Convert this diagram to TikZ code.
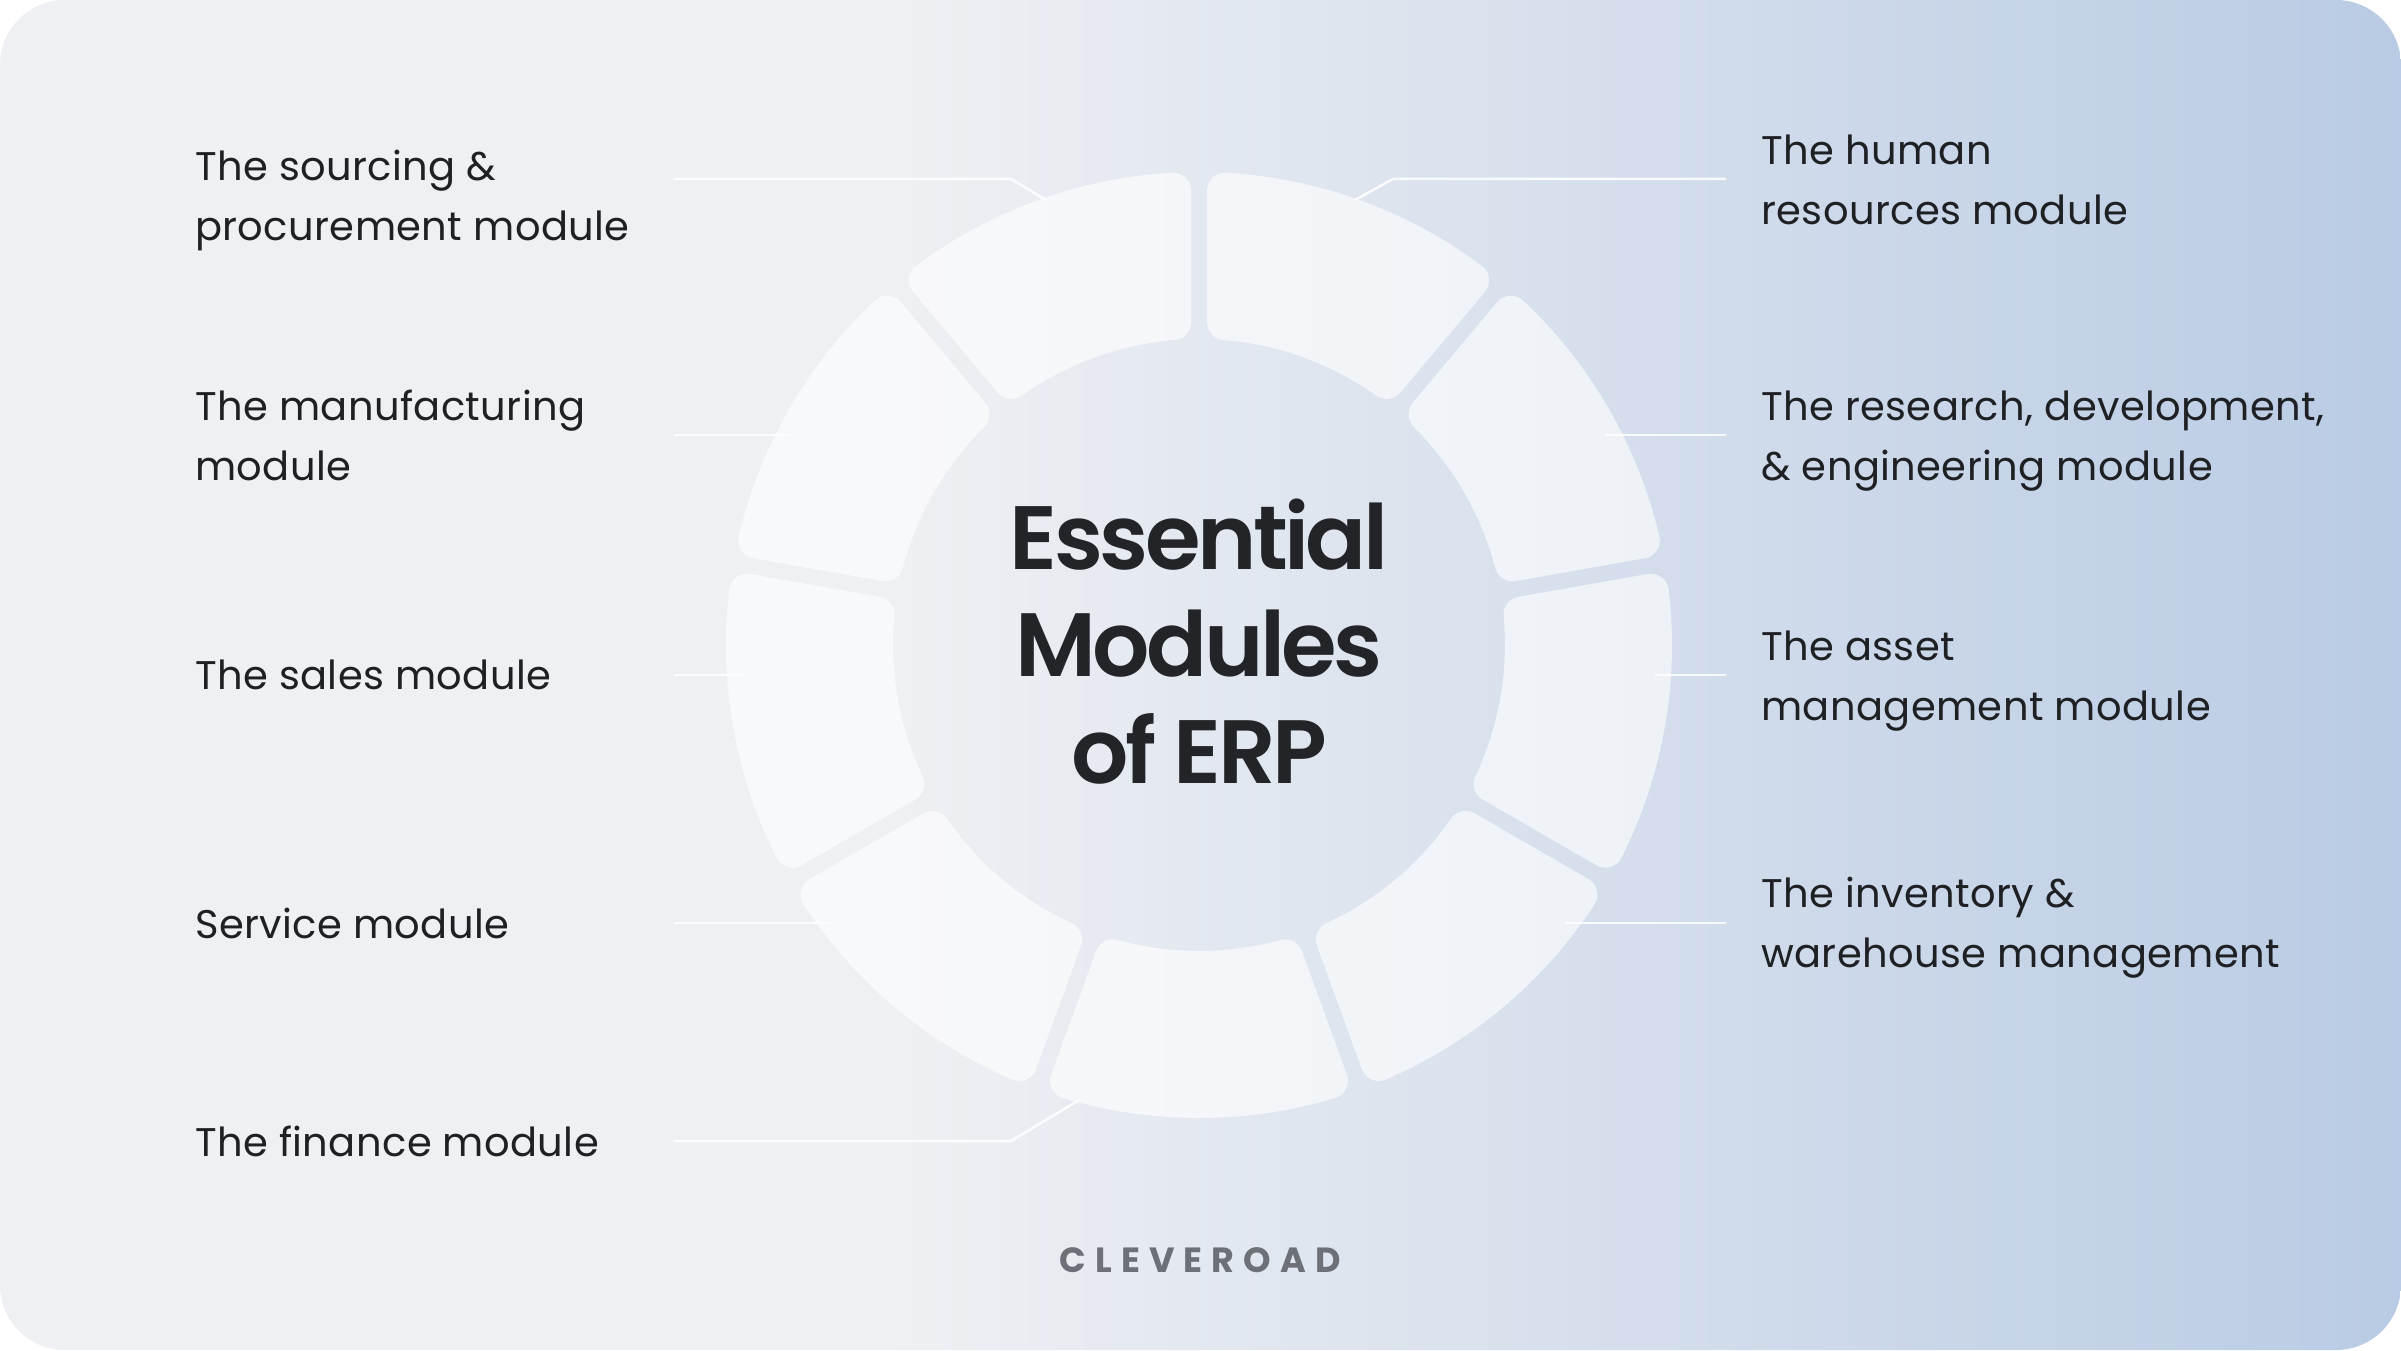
\documentclass[tikz,border=0pt]{standalone}
\usepackage{fontspec}
\setmainfont{Poppins}
\newfontfamily\ttlfont{Poppins SemiBold}[LetterSpace=-4]
\definecolor{bgL}{HTML}{EEF0F3}
\definecolor{bgR}{HTML}{B9CBE4}
\definecolor{txt}{HTML}{1F2024}
\definecolor{ttl}{HTML}{232427}
\definecolor{brand}{HTML}{6E7077}
\newcommand\leftstack[1]{\vtop{\halign{##\hfil\cr#1\crcr}}}
\newcommand\centerstack[1]{\vtop{\halign{\hfil##\hfil\cr#1\crcr}}}
\tikzset{
  lbl/.style={anchor=base west, inner sep=0pt, text=txt, font=\fontsize{40}{60}\selectfont\addfontfeature{LetterSpace=1}},
  conn/.style={draw=white, line width=2.5pt, opacity=0.85},
  seg/.style={fill=white, draw=white, line width=36pt, line join=round},
}
\begin{document}
\begin{tikzpicture}[x=1pt,y=1pt]
\useasboundingbox (0,0) rectangle (2401,1350);
\fill[white] (0,0) rectangle (2401,1350);
% background
\begin{scope}
\clip[rounded corners=65pt] (0,0) rectangle (2401,1350);
\fill[bgL] (0,0) rectangle (901,1350);
\shade[left color=bgL, right color=bgR] (900,0) rectangle (2401,1350);
\end{scope}
\coordinate (ctr) at (1199,705);
% connector coordinates
\coordinate (l1a) at (674,1171); \coordinate (l1b) at (1011,1171); \coordinate (l1c) at (1046,1150);
\coordinate (l2a) at (674,915);  \coordinate (l2b) at (790,915);
\coordinate (l3a) at (674,675);  \coordinate (l3b) at (745,675);
\coordinate (l4a) at (674,427);  \coordinate (l4b) at (830,427);
\coordinate (l5a) at (674,209);  \coordinate (l5b) at (1011,209); \coordinate (l5c) at (1079,250);
\coordinate (r1a) at (1726,1171); \coordinate (r1b) at (1393,1171); \coordinate (r1c) at (1355,1150);
\coordinate (r2a) at (1726,915);  \coordinate (r2b) at (1605,915);
\coordinate (r3a) at (1726,675);  \coordinate (r3b) at (1655,675);
\coordinate (r4a) at (1726,427);  \coordinate (r4b) at (1565,427);
\draw[conn] (l1a) -- (l1b) -- (l1c);
\draw[conn] (l2a) -- (l2b);
\draw[conn] (l3a) -- (l3b);
\draw[conn] (l4a) -- (l4b);
\draw[conn] (l5a) -- (l5b) -- (l5c);
\draw[conn] (r1a) -- (r1b) -- (r1c);
\draw[conn] (r2a) -- (r2b);
\draw[conn] (r3a) -- (r3b);
\draw[conn] (r4a) -- (r4b);
% ring segments
\pgfmathsetmacro\Ro{455}
\pgfmathsetmacro\Ri{324}
\pgfmathsetmacro\ao{asin(26/455)}
\pgfmathsetmacro\ai{asin(26/324)}
\begin{scope}[transparency group, opacity=0.62]
\foreach \c in {270,310,350,390,430,470,510,550,590}{
  \pgfmathsetmacro\sa{\c-20+\ao}
  \pgfmathsetmacro\ea{\c+20-\ao}
  \pgfmathsetmacro\sb{\c+20-\ai}
  \pgfmathsetmacro\eb{\c-20+\ai}
  \filldraw[seg] ([shift={(\sa:\Ro)}]ctr) arc[start angle=\sa, end angle=\ea, radius=\Ro]
     -- ([shift={(\sb:\Ri)}]ctr) arc[start angle=\sb, end angle=\eb, radius=\Ri] -- cycle;
}
\end{scope}
% title
\node[anchor=base, inner sep=0pt, text=ttl, font=\ttlfont\fontsize{90}{107}\selectfont] (title) at (1199,780)
  {\centerstack{Essential\cr Modules\cr of ERP}};
% left labels
\node[lbl] (src) at (195,1169) {\leftstack{The sourcing \&\cr procurement module}};
\node[lbl] (man) at (195,929) {\leftstack{The manufacturing\cr module}};
\node[lbl] (sal) at (195,660) {The sales module};
\node[lbl] (ser) at (195,411) {Service module};
\node[lbl] (fin) at (195,194) {The finance module};
% right labels
\node[lbl] (hr) at (1761,1185) {\leftstack{The human\cr resources module}};
\node[lbl] (rd) at (1761,929) {\leftstack{The research, development,\cr \& engineering module}};
\node[lbl] (ast) at (1761,689) {\leftstack{The asset\cr management module}};
\node[lbl] (inv) at (1761,442) {\leftstack{The inventory \&\cr warehouse management}};
% brand
\node[anchor=base, inner sep=0pt, text=brand, font=\fontsize{35}{40}\selectfont\bfseries\addfontfeature{LetterSpace=26}] (brand) at (1200,78) {CLEVEROAD};
\end{tikzpicture}
\end{document}
